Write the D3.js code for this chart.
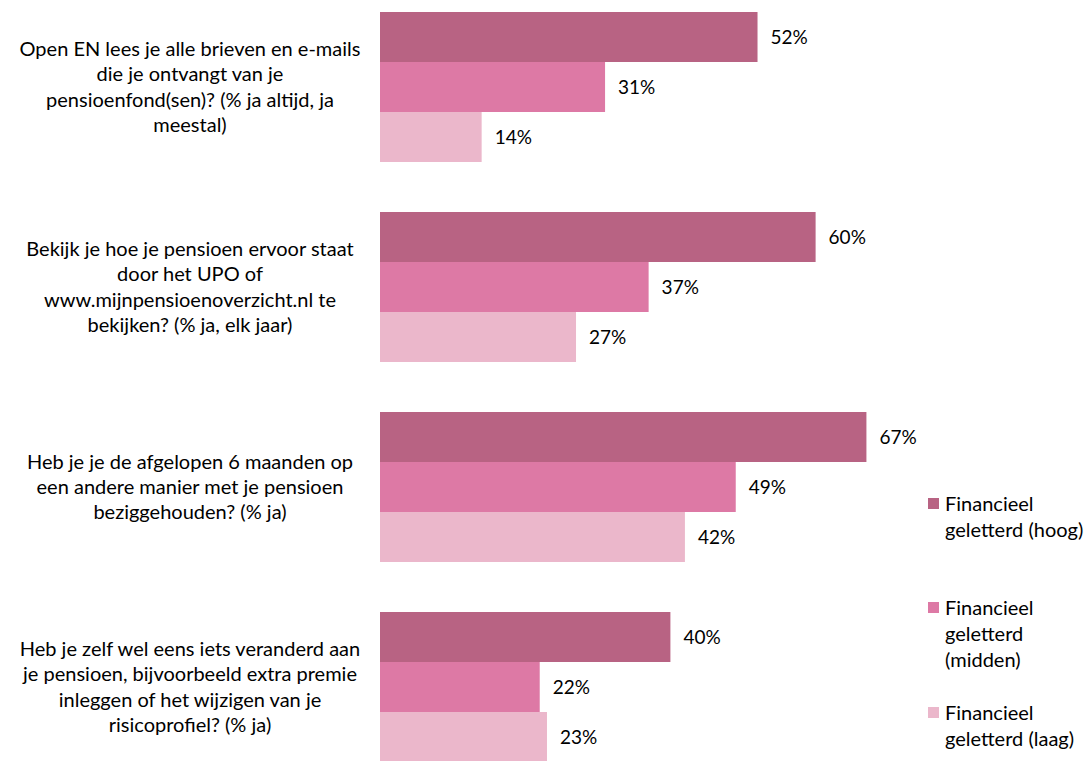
<!DOCTYPE html>
<head>
<meta charset="utf-8">
<script src="https://cdn.jsdelivr.net/npm/d3@7"></script>
<style>
body { margin: 0; background: #fff; }
text { font-family: Lato, "Open Sans", sans-serif; fill: #000; }
</style>
</head>
<body>
<div id="chart"></div>
<script>

// questions (category labels, one entry per line)
var questions = [
  ["Open EN lees je alle brieven en e-mails", "die je ontvangt van je", "pensioenfond(sen)? (% ja altijd, ja", "meestal)"],
  ["Bekijk je hoe je pensioen ervoor staat", "door het UPO of", "www.mijnpensioenoverzicht.nl te", "bekijken? (% ja, elk jaar)"],
  ["Heb je je de afgelopen 6 maanden op", "een andere manier met je pensioen", "beziggehouden? (% ja)"],
  ["Heb je zelf wel eens iets veranderd aan", "je pensioen, bijvoorbeeld extra premie", "inleggen of het wijzigen van je", "risicoprofiel? (% ja)"]
];

// series
var seriesNames = ["hoog", "midden", "laag"];
var legendLabels = [
  ["Financieel", "geletterd (hoog)"],
  ["Financieel", "geletterd", "(midden)"],
  ["Financieel", "geletterd (laag)"]
];
var hoog   = [52, 60, 67, 40];
var midden = [31, 37, 49, 22];
var laag   = [14, 27, 42, 23];
var colors = ["#B86383", "#DD79A5", "#EBB7CB"];

var width = 1089, height = 761;
var fontSize = 20;

var svg = d3.select("#chart").append("svg")
    .attr("width", width)
    .attr("height", height);

// scales
var x = d3.scaleLinear().domain([0, 100]).range([380, 1106]);
var y = d3.scaleBand().domain(d3.range(questions.length))
    .range([-13, 787]).paddingInner(0.25).paddingOuter(0.125);
var ySub = d3.scaleBand().domain(seriesNames).range([0, y.bandwidth()]);

var rows = questions.map(function(q, i) {
  return { q: q, values: [hoog[i], midden[i], laag[i]] };
});

var groups = svg.selectAll(".group")
    .data(rows)
  .enter().append("g")
    .attr("class", "group")
    .attr("transform", function(d, i) { return "translate(0," + y(i) + ")"; });

// bars
groups.selectAll("rect")
    .data(function(d) { return d.values; })
  .enter().append("rect")
    .attr("x", x(0))
    .attr("y", function(d, j) { return ySub(seriesNames[j]); })
    .attr("width", function(d) { return x(d) - x(0); })
    .attr("height", ySub.bandwidth())
    .attr("fill", function(d, j) { return colors[j]; });

// value labels
groups.selectAll(".val")
    .data(function(d) { return d.values; })
  .enter().append("text")
    .attr("class", "val")
    .attr("x", function(d) { return x(d) + 13; })
    .attr("y", function(d, j) { return ySub(seriesNames[j]) + ySub.bandwidth() / 2; })
    .attr("dy", "0.35em")
    .style("font-size", "19px")
    .text(function(d) { return d + "%"; });

// category labels
var lineH = 25.3;
groups.append("text")
    .attr("text-anchor", "middle")
    .style("font-size", fontSize + "px")
    .each(function(d) {
      var t = d3.select(this);
      var n = d.q.length;
      d.q.forEach(function(line, k) {
        t.append("tspan")
          .attr("x", 190)
          .attr("y", y.bandwidth() / 2 + (k - (n - 1) / 2) * lineH)
          .attr("dy", "0.35em")
          .text(line);
      });
    });

// legend
var legendTop = [504, 608, 713];
var legend = svg.selectAll(".legend")
    .data(legendLabels)
  .enter().append("g")
    .attr("class", "legend")
    .attr("transform", function(d, i) { return "translate(928," + legendTop[i] + ")"; });

legend.append("rect")
    .attr("x", 0)
    .attr("y", -6)
    .attr("width", 11)
    .attr("height", 11)
    .attr("fill", function(d, i) { return colors[i]; });

legend.append("text")
    .style("font-size", fontSize + "px")
    .each(function(d) {
      var t = d3.select(this);
      d.forEach(function(line, k) {
        t.append("tspan")
          .attr("x", 17)
          .attr("y", k * 26)
          .attr("dy", "0.35em")
          .text(line);
      });
    });

</script>
</body>
